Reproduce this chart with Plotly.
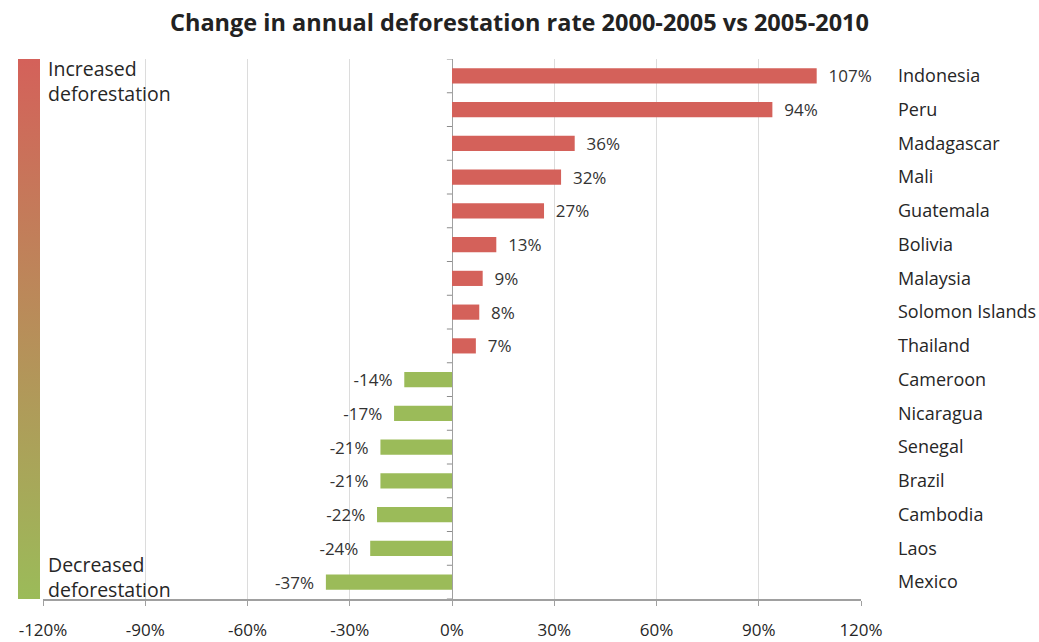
import plotly.graph_objects as go

countries = ["Indonesia", "Peru", "Madagascar", "Mali", "Guatemala", "Bolivia",
             "Malaysia", "Solomon Islands", "Thailand", "Cameroon", "Nicaragua",
             "Senegal", "Brazil", "Cambodia", "Laos", "Mexico"]
changes = [107, 94, 36, 32, 27, 13, 9, 8, 7, -14, -17, -21, -21, -22, -24, -37]
tick_vals = [-120, -90, -60, -30, 0, 30, 60, 90, 120]
tick_text = ["-120%", "-90%", "-60%", "-30%", "0%", "30%", "60%", "90%", "120%"]

RED = "#d4615a"
GREEN = "#9bbb59"
NB = "\u00a0"
colors = [RED if v > 0 else GREEN for v in changes]
labels = [(NB * 2 + f"{v}%") if v > 0 else (f"{v}%" + NB * 2) for v in changes]
FONT = "Open Sans"
TXT = "#262626"

fig = go.Figure()
fig.add_trace(go.Bar(
    x=changes, y=countries, orientation="h",
    marker=dict(color=colors, line=dict(width=0)),
    text=labels, textposition="outside", cliponaxis=False, constraintext="none",
    textfont=dict(family=FONT, size=17, color="#333333"),
    showlegend=False, hoverinfo="skip",
))
# gradient legend bar
fig.add_trace(go.Scatter(
    x=[None], y=[None], mode="markers", showlegend=False,
    marker=dict(
        color=[0, 1], cmin=0, cmax=1,
        colorscale=[[0, GREEN], [1, RED]],
        showscale=True,
        colorbar=dict(
            x=-0.0306, xanchor="left", y=0.5, yanchor="middle",
            thickness=22, len=540, lenmode="pixels",
            outlinewidth=0, xpad=0, ypad=0,
            showticklabels=False, ticks="",
        ),
    ),
))

n = len(countries)
# small category tick marks on the zero line (axis decoration)
tick_shapes = [
    dict(type="line", xref="x", yref="y", x0=-1.5, x1=0,
         y0=i - 0.5, y1=i - 0.5, line=dict(color="#8c8c8c", width=1), layer="above")
    for i in range(n + 1)
]

fig.update_layout(
    width=1039, height=642,
    margin=dict(l=43, r=178, t=59, b=43),
    plot_bgcolor="white", paper_bgcolor="white",
    bargap=0.55,
    shapes=tick_shapes,
    title=dict(text="<b>Change in annual deforestation rate 2000-2005 vs 2005-2010</b>",
               x=0.5, xanchor="center", y=0.965, yanchor="middle",
               font=dict(family=FONT, size=23.5, color="#222222")),
    xaxis=dict(range=[-120, 120], tickvals=tick_vals, ticktext=tick_text,
               showgrid=True, gridcolor="#dcdcdc", gridwidth=1,
               zeroline=True, zerolinecolor="#a0a0a0", zerolinewidth=1,
               showline=True, linecolor="#a0a0a0", linewidth=2,
               ticks="outside", ticklen=5, tickcolor="#a0a0a0",
               ticklabelstandoff=10, automargin=False,
               tickfont=dict(family=FONT, size=17, color=TXT),
               fixedrange=True),
    yaxis=dict(categoryorder="array", categoryarray=countries[::-1],
               range=[-0.5, n - 0.5],
               side="right", showgrid=False, zeroline=False,
               ticks="", ticklabelstandoff=36, automargin=False,
               tickfont=dict(family=FONT, size=18, color=TXT)),
    annotations=[
        dict(text="Increased<br>deforestation", xref="paper", yref="paper",
             x=0.004, y=1.012, xanchor="left", yanchor="top", showarrow=False,
             align="left", font=dict(family=FONT, size=19.5, color=TXT)),
        dict(text="Decreased<br>deforestation", xref="paper", yref="paper",
             x=0.004, y=-0.012, xanchor="left", yanchor="bottom", showarrow=False,
             align="left", font=dict(family=FONT, size=19.5, color=TXT)),
    ],
)

fig.write_html("out.html")
